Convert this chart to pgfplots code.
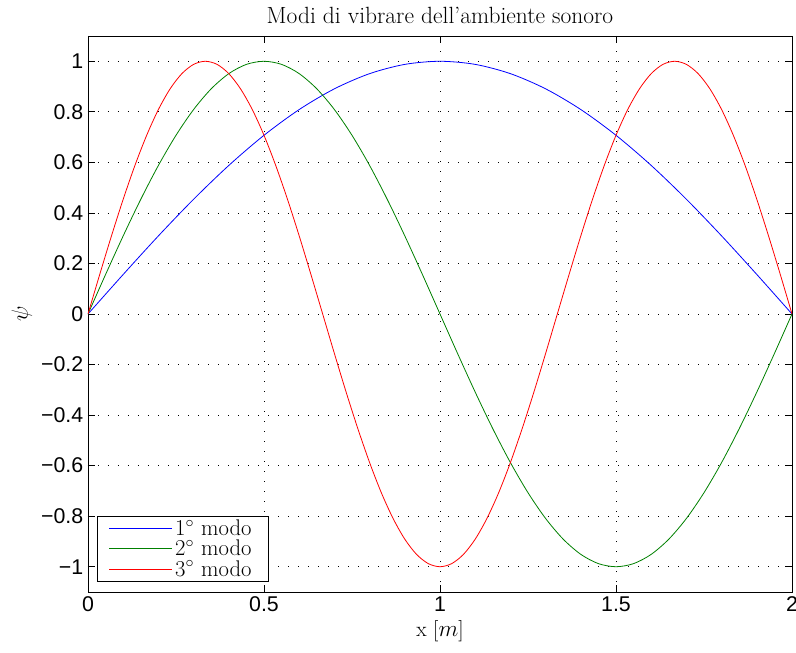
\documentclass[border=0pt]{standalone}
\usepackage{fontspec}
\usepackage{pgfplots}
\pgfplotsset{compat=1.18}
\newfontfamily\arial{Liberation Sans}
\definecolor{mblue}{rgb}{0,0,1}
\definecolor{mgreen}{rgb}{0,0.5,0}
\definecolor{mred}{rgb}{1,0,0}
\begin{document}
\begin{tikzpicture}
\useasboundingbox (-66pt,-45.75pt) rectangle (531pt,444pt);
\begin{axis}[
  at={(0pt,0pt)}, anchor=south west,
  scale only axis, width=528pt, height=417pt,
  xmin=0, xmax=2, ymin=-1.1, ymax=1.1,
  xtick={0,0.5,1,1.5,2},
  ytick={-1,-0.8,-0.6,-0.4,-0.2,0,0.2,0.4,0.6,0.8,1},
  yticklabels={−1,−0.8,−0.6,−0.4,−0.2,0,0.2,0.4,0.6,0.8,1},
  xticklabels={0,0.5,1,1.5,2},
  tick align=inside, tick pos=both,
  major tick length=5pt,
  grid=major,
  grid style={black, line width=0.5pt, dash pattern=on 0.7pt off 6.8pt},
  tick style={black, line width=0.5pt},
  axis line style={line width=0.6pt},
  font=\fontsize{16}{19}\selectfont,
  tick label style={font=\arial\fontsize{16}{19}\selectfont},
  title style={font=\fontsize{17.6}{21}\selectfont},
  title={Modi di vibrare dell'ambiente sonoro},
  xlabel={x [$m$]},
  ylabel={$\psi$},
  legend cell align=left,
  legend style={at={(0,0)}, anchor=south west, xshift=6.75pt, yshift=7.5pt,
    font=\fontsize{17}{17}\selectfont, row sep=0.5pt,
    nodes={inner ysep=0.7pt, inner xsep=2pt},
    draw=black, line width=0.6pt},
  legend image code/.code={%
    \path[draw=none, fill=none] (-6pt,-4pt) rectangle (47pt,4pt);
    \draw[#1] (0pt,0pt) -- (47pt,0pt);},
]
\addplot[mblue, line width=0.6pt, smooth] coordinates {
(0,0) (0.1,0.15643) (0.2,0.30902) (0.3,0.45399) (0.4,0.58779) (0.5,0.70711)
(0.6,0.80902) (0.7,0.89101) (0.8,0.95106) (0.9,0.98769) (1.0,1)
(1.1,0.98769) (1.2,0.95106) (1.3,0.89101) (1.4,0.80902) (1.5,0.70711)
(1.6,0.58779) (1.7,0.45399) (1.8,0.30902) (1.9,0.15643) (2.0,0)
};
\addlegendentry{1$^\circ$ modo\rule{8pt}{0pt}}
\addplot[mgreen, line width=0.6pt, smooth] coordinates {
(0,0) (0.05,0.15643) (0.1,0.30902) (0.15,0.45399) (0.2,0.58779) (0.25,0.70711)
(0.3,0.80902) (0.35,0.89101) (0.4,0.95106) (0.45,0.98769) (0.5,1)
(0.55,0.98769) (0.6,0.95106) (0.65,0.89101) (0.7,0.80902) (0.75,0.70711)
(0.8,0.58779) (0.85,0.45399) (0.9,0.30902) (0.95,0.15643) (1.0,0)
(1.05,-0.15643) (1.1,-0.30902) (1.15,-0.45399) (1.2,-0.58779) (1.25,-0.70711)
(1.3,-0.80902) (1.35,-0.89101) (1.4,-0.95106) (1.45,-0.98769) (1.5,-1)
(1.55,-0.98769) (1.6,-0.95106) (1.65,-0.89101) (1.7,-0.80902) (1.75,-0.70711)
(1.8,-0.58779) (1.85,-0.45399) (1.9,-0.30902) (1.95,-0.15643) (2.0,0)
};
\addlegendentry{2$^\circ$ modo\rule{8pt}{0pt}}
\addplot[mred, line width=0.6pt, smooth] coordinates {
(0,0) (0.0333,0.15643) (0.0667,0.30902) (0.1,0.45399) (0.1333,0.58779) (0.1667,0.70711)
(0.2,0.80902) (0.2333,0.89101) (0.2667,0.95106) (0.3,0.98769) (0.3333,1)
(0.3667,0.98769) (0.4,0.95106) (0.4333,0.89101) (0.4667,0.80902) (0.5,0.70711)
(0.5333,0.58779) (0.5667,0.45399) (0.6,0.30902) (0.6333,0.15643) (0.6667,0)
(0.7,-0.15643) (0.7333,-0.30902) (0.7667,-0.45399) (0.8,-0.58779) (0.8333,-0.70711)
(0.8667,-0.80902) (0.9,-0.89101) (0.9333,-0.95106) (0.9667,-0.98769) (1.0,-1)
(1.0333,-0.98769) (1.0667,-0.95106) (1.1,-0.89101) (1.1333,-0.80902) (1.1667,-0.70711)
(1.2,-0.58779) (1.2333,-0.45399) (1.2667,-0.30902) (1.3,-0.15643) (1.3333,0)
(1.3667,0.15643) (1.4,0.30902) (1.4333,0.45399) (1.4667,0.58779) (1.5,0.70711)
(1.5333,0.80902) (1.5667,0.89101) (1.6,0.95106) (1.6333,0.98769) (1.6667,1)
(1.7,0.98769) (1.7333,0.95106) (1.7667,0.89101) (1.8,0.80902) (1.8333,0.70711)
(1.8667,0.58779) (1.9,0.45399) (1.9333,0.30902) (1.9667,0.15643) (2.0,0)
};
\addlegendentry{3$^\circ$ modo\rule{8pt}{0pt}}
\end{axis}
\end{tikzpicture}
\end{document}
